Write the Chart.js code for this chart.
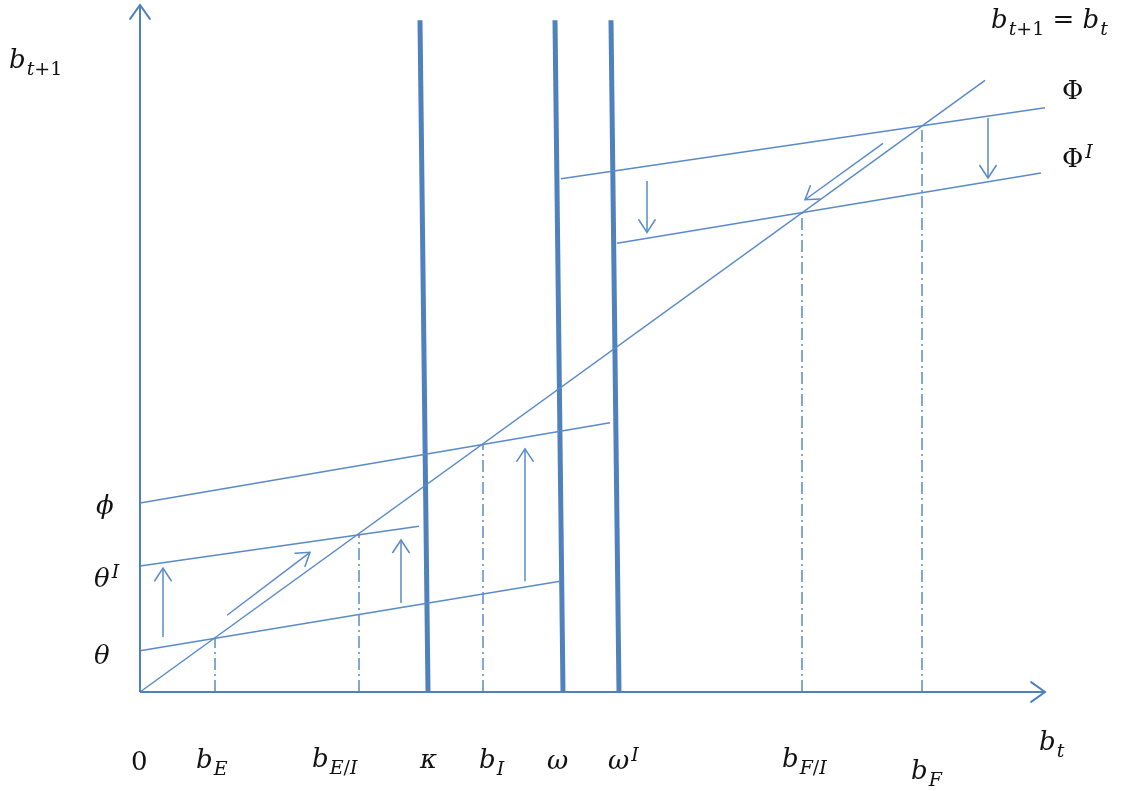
<!DOCTYPE html>
<html>
<head>
<meta charset="utf-8">
<script src="https://cdn.jsdelivr.net/npm/chart.js@4.4.0/dist/chart.umd.min.js"></script>
<style>
  body { margin: 0; background: #fff; }
  #wrap { width: 1127px; height: 791px; }
</style>
</head>
<body>
<div id="wrap"><canvas id="diagram"></canvas></div>
<script>
// axis lengths (data units)
const xMax = 9.05;
const yMax = 9.49;

// b_{t+1} = b_t
const diagX = [0, 8.45];
const diagY = [0, 8.45];

// low regime lines
const thetaX = [0, 4.20];
const thetaY = [0.57, 1.53];
const thetaIX = [0, 2.79];
const thetaIY = [1.74, 2.29];
const phiX = [0, 4.70];
const phiY = [2.61, 3.72];

// high regime lines
const bigPhiX = [4.21, 9.05];
const bigPhiY = [7.09, 8.07];
const bigPhiIX = [4.77, 9.01];
const bigPhiIY = [6.20, 7.17];

// thresholds kappa, omega, omega^I (thick verticals)
const thresholdTopX = [2.80, 4.15, 4.71];
const thresholdBottomX = [2.88, 4.23, 4.79];
const thresholdTop = 9.28;

// steady states b_E, b_E/I, b_I, b_F/I, b_F
const steadyStates = [0.75, 2.19, 3.43, 6.62, 7.82];

// arrows: start and end points
const arrowFromX = [0.23, 0.87, 2.61, 3.85, 5.07, 8.48, 7.43];
const arrowFromY = [0.76, 1.06, 1.23, 1.53, 7.06, 7.93, 7.58];
const arrowToX = [0.23, 1.70, 2.61, 3.85, 5.07, 8.48, 6.65];
const arrowToY = [1.71, 1.93, 2.10, 3.36, 6.35, 7.10, 6.80];

// tick labels along the b_t axis
const xTickLabels = ['0', 'b_E/I', 'b_E', 'κ', 'b_I', 'ω', 'ω^I', 'b_F/I', 'b_F', 'b_t'];
const xTickAt = [-0.09, 1.72, 0.56, 2.80, 3.39, 4.07, 4.68, 6.42, 7.71, 8.99];
const xTickBase = [-1.08, -1.04, -1.05, -1.05, -1.05, -1.07, -1.07, -1.04, -1.20, -0.80];

// other labels
const sideLabels = ['b_t+1', 'ϕ', 'θ^I', 'θ', 'Φ', 'Φ^I', 'b_t+1 = b_t'];
const sideAtX = [-1.31, -0.44, -0.46, -0.46, 9.22, 9.22, 8.51];
const sideAtY = [8.62, 2.46, 1.45, 0.39, 8.19, 7.25, 9.17];

const blue = '#4f81bd';
const thin = '#5a8bc8';

function pts(xs, ys) {
    return xs.map((x, i) => ({ x: x, y: ys[i] }));
}

function line(xs, ys, extra) {
    return Object.assign({
        data: pts(xs, ys),
        showLine: true,
        borderColor: thin,
        borderWidth: 1.5,
        pointRadius: 0,
        clip: false
    }, extra || {});
}

let datasets = [];
datasets.push(line([0, xMax], [0, 0], { borderColor: blue, borderWidth: 2, arrow: 'axis' }));
datasets.push(line([0, 0], [0, yMax], { borderColor: blue, borderWidth: 2, arrow: 'axis' }));
datasets.push(line(diagX, diagY));
datasets.push(line(thetaX, thetaY));
datasets.push(line(thetaIX, thetaIY));
datasets.push(line(phiX, phiY));
datasets.push(line(bigPhiX, bigPhiY));
datasets.push(line(bigPhiIX, bigPhiIY));
for (let i = 0; i < thresholdTopX.length; i++) {
    datasets.push(line([thresholdBottomX[i], thresholdTopX[i]], [0, thresholdTop],
        { borderColor: blue, borderWidth: 5 }));
}
for (let s of steadyStates) {
    datasets.push(line([s, s], [0, s], { borderDash: [12, 4, 2, 4], borderWidth: 1.5 }));
}
for (let i = 0; i < arrowFromX.length; i++) {
    datasets.push(line([arrowFromX[i], arrowToX[i]], [arrowFromY[i], arrowToY[i]], { arrow: 'small' }));
}

const FONT = '"DejaVu Serif"';

// letters are italic (math style), digits, signs and capital Phi upright
function run(ctx, str, x, y, size) {
    for (const ch of str) {
        const upright = /[0-9+=\/ Φ]/.test(ch);
        ctx.font = (upright ? '' : 'italic ') + size + 'px ' + FONT;
        ctx.fillText(ch, x, y);
        x += ctx.measureText(ch).width;
    }
    return x;
}

function drawLabel(ctx, text, x, y, size) {
    let parts = text.split(' = ');
    let small = Math.round(size * 0.72);
    for (let p = 0; p < parts.length; p++) {
        let t = parts[p];
        let base = t, sub = null, sup = null;
        if (t.indexOf('_') > 0) { base = t.split('_')[0]; sub = t.split('_')[1]; }
        if (t.indexOf('^') > 0) { base = t.split('^')[0]; sup = t.split('^')[1]; }
        x = run(ctx, base, x, y, size);
        if (sub) x = run(ctx, sub, x + 1, y + size * 0.26, small);
        if (sup) x = run(ctx, sup, x + 2, y - size * 0.34, small);
        if (p < parts.length - 1) x = run(ctx, ' = ', x, y, size);
    }
}

const decorations = {
    id: 'decorations',
    afterDatasetsDraw(chart) {
        const ctx = chart.ctx;
        const xs = chart.scales.x, ys = chart.scales.y;
        ctx.save();
        chart.data.datasets.forEach(ds => {
            if (!ds.arrow) return;
            let a = ds.data[0], b = ds.data[ds.data.length - 1];
            let x0 = xs.getPixelForValue(a.x), y0 = ys.getPixelForValue(a.y);
            let x1 = xs.getPixelForValue(b.x), y1 = ys.getPixelForValue(b.y);
            let ang = Math.atan2(y1 - y0, x1 - x0);
            let len = ds.arrow === 'axis' ? 17 : 15;
            let spread = ds.arrow === 'axis' ? 0.62 : 0.58;
            ctx.strokeStyle = ds.borderColor;
            ctx.lineWidth = ds.borderWidth;
            ctx.lineCap = 'round';
            ctx.beginPath();
            ctx.moveTo(x1 - len * Math.cos(ang - spread), y1 - len * Math.sin(ang - spread));
            ctx.lineTo(x1, y1);
            ctx.lineTo(x1 - len * Math.cos(ang + spread), y1 - len * Math.sin(ang + spread));
            ctx.stroke();
        });
        ctx.fillStyle = '#111';
        ctx.textBaseline = 'alphabetic';
        xTickLabels.forEach((t, i) => {
            drawLabel(ctx, t, xs.getPixelForValue(xTickAt[i]), ys.getPixelForValue(xTickBase[i]), 26);
        });
        sideLabels.forEach((t, i) => {
            drawLabel(ctx, t, xs.getPixelForValue(sideAtX[i]), ys.getPixelForValue(sideAtY[i]), 26);
        });
        ctx.restore();
    }
};

new Chart(document.getElementById('diagram'), {
    type: 'scatter',
    data: { datasets: datasets },
    options: {
        responsive: true,
        maintainAspectRatio: false,
        animation: false,
        layout: { padding: { left: 140, right: 82, top: 5, bottom: 99 } },
        scales: {
            x: { type: 'linear', min: 0, max: xMax, display: false },
            y: { type: 'linear', min: 0, max: yMax, display: false }
        },
        plugins: { legend: { display: false }, tooltip: { enabled: false } }
    },
    plugins: [decorations]
});
</script>
</body>
</html>
